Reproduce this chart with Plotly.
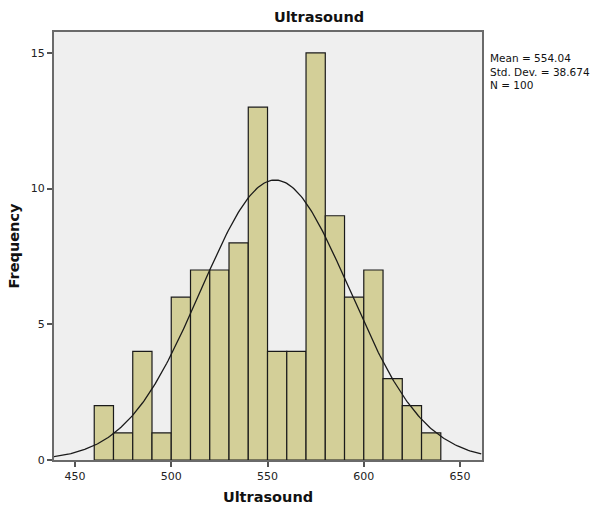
import numpy as np
import plotly.graph_objects as go

bin_starts = [460, 470, 480, 490, 500, 510, 520, 530, 540, 550, 560, 570, 580, 590, 600, 610, 620, 630]
counts = [2, 1, 4, 1, 6, 7, 7, 8, 13, 4, 4, 15, 9, 6, 7, 3, 2, 1]
bin_width = 10
mean_val = 554.04
sd_val = 38.674
n_val = 100
x_ticks = [450, 500, 550, 600, 650]
y_ticks = [0, 5, 10, 15]

centers = [b + bin_width / 2 for b in bin_starts]

fig = go.Figure()
fig.add_trace(go.Bar(
    x=centers, y=counts, width=bin_width,
    marker=dict(color="#d3cf98", line=dict(color="#1a1a1a", width=1.2)),
    hoverinfo="skip",
))

xs = np.linspace(439, 661, 300)
ys = n_val * bin_width / (sd_val * np.sqrt(2 * np.pi)) * np.exp(-0.5 * ((xs - mean_val) / sd_val) ** 2)
fig.add_trace(go.Scatter(x=xs, y=ys, mode="lines", line=dict(color="#1a1a1a", width=1.3), hoverinfo="skip"))

axis_font = dict(family="DejaVu Sans", size=11, color="#222")
fig.update_layout(
    width=592, height=507,
    margin=dict(l=54, r=110, t=32, b=47, autoexpand=False),
    paper_bgcolor="white", plot_bgcolor="#efefef",
    showlegend=False,
    title=dict(text="<b>Ultrasound</b>", x=319 / 592, xanchor="center", y=1 - 17 / 507, yanchor="middle",
               font=dict(family="DejaVu Sans", size=14.5, color="#111")),
    xaxis=dict(range=[439.1, 661.4], tickvals=x_ticks, ticks="outside", ticklen=5, tickwidth=1.5, tickcolor="#555",
               showgrid=False, zeroline=False, showline=True, linecolor="#6a6a6a", linewidth=2, mirror=True,
               tickfont=axis_font,
               title=dict(text="<b>Ultrasound</b>", font=dict(family="DejaVu Sans", size=14.5, color="#111"), standoff=10)),
    yaxis=dict(range=[0, 15.77], tickvals=y_ticks, ticks="outside", ticklen=5, tickwidth=1.5, tickcolor="#555",
               showgrid=False, zeroline=False, showline=True, linecolor="#6a6a6a", linewidth=2, mirror=True,
               tickfont=axis_font,
               title=dict(text="<b>Frequency</b>", font=dict(family="DejaVu Sans", size=14.5, color="#111"), standoff=8)),
    annotations=[dict(
        text=f"Mean = {mean_val:.2f}<br>Std. Dev. = {sd_val:.3f}<br>N = {n_val}",
        xref="paper", yref="paper", x=1.0, y=1 - 18 / 428, xanchor="left", yanchor="top", xshift=6,
        showarrow=False, align="left", font=dict(family="DejaVu Sans", size=10.5, color="#111"))],
)

fig.write_html("out.html", config={"displayModeBar": False},
               post_script="document.body.style.margin='0';document.body.style.overflow='hidden';")
